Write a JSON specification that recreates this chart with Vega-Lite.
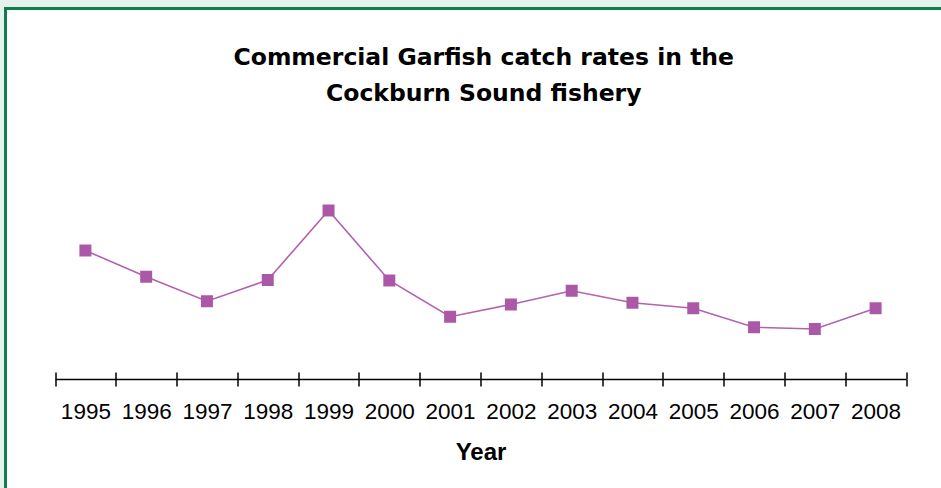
{
  "$schema": "https://vega.github.io/schema/vega-lite/v6.json",
  "autosize": {"type": "none"},
  "width": 935.5,
  "height": 479.5,
  "padding": {"left": 5.5, "top": 8.5, "right": 0, "bottom": 0},
  "background": "#e5f2eb",
  "title": {
    "text": ["Commercial Garfish catch rates in the", "Cockburn Sound fishery"],
    "frame": "group",
    "anchor": "middle",
    "orient": "top",
    "offset": -97,
    "dx": 10.5,
    "font": "DejaVu Sans",
    "fontWeight": "bold",
    "fontSize": 23.5,
    "lineHeight": 36,
    "color": "#000000"
  },
  "data": {
    "values": [
      {"Year": "1995", "CatchRate": 51.4},
      {"Year": "1996", "CatchRate": 40.9},
      {"Year": "1997", "CatchRate": 31.1},
      {"Year": "1998", "CatchRate": 39.6},
      {"Year": "1999", "CatchRate": 67.4},
      {"Year": "2000", "CatchRate": 39.4},
      {"Year": "2001", "CatchRate": 24.9},
      {"Year": "2002", "CatchRate": 29.8},
      {"Year": "2003", "CatchRate": 35.3},
      {"Year": "2004", "CatchRate": 30.5},
      {"Year": "2005", "CatchRate": 28.3},
      {"Year": "2006", "CatchRate": 20.7},
      {"Year": "2007", "CatchRate": 20.0},
      {"Year": "2008", "CatchRate": 28.3}
    ]
  },
  "layer": [
    {
      "mark": {"type": "line", "color": "#b262ae", "strokeWidth": 1.6},
      "encoding": {
        "x": {
          "field": "Year",
          "type": "ordinal",
          "scale": {"type": "band", "range": [49.5, 900.5], "paddingInner": 0, "paddingOuter": 0},
          "axis": {
            "orient": "bottom",
            "offset": -109,
            "title": "Year",
            "labelAngle": 0,
            "tickBand": "extent",
            "tickSize": 7,
            "tickWidth": 1.5,
            "tickColor": "#000000",
            "domainColor": "#000000",
            "domainWidth": 1.5,
            "labelFont": "Liberation Sans",
            "labelFontSize": 22.5,
            "labelColor": "#000000",
            "labelPadding": 14.5,
            "titleFont": "Liberation Sans",
            "titleFontWeight": "bold",
            "titleFontSize": 24,
            "titleColor": "#000000",
            "titlePadding": 17,
            "grid": false
          }
        },
        "y": {
          "field": "CatchRate",
          "type": "quantitative",
          "scale": {"domain": [0, 148.2], "range": [370.5, 0], "nice": false, "zero": true},
          "axis": null
        }
      }
    },
    {
      "mark": {"type": "point", "shape": "square", "filled": true, "size": 144, "color": "#ab58a7", "opacity": 1},
      "encoding": {
        "x": {
          "field": "Year",
          "type": "ordinal",
          "axis": {
            "orient": "top",
            "offset": -370.5,
            "title": null,
            "labels": false,
            "domain": false,
            "tickBand": "extent",
            "tickSize": 7,
            "tickWidth": 1.5,
            "tickColor": "#000000",
            "grid": false
          }
        },
        "y": {"field": "CatchRate", "type": "quantitative"}
      }
    }
  ],
  "resolve": {"axis": {"x": "independent"}},
  "config": {
    "view": {
      "fill": "#ffffff",
      "stroke": "#0f7d4e",
      "strokeWidth": 3,
      "strokeDash": [935.5, 1415, 479.5, 10]
    }
  }
}
